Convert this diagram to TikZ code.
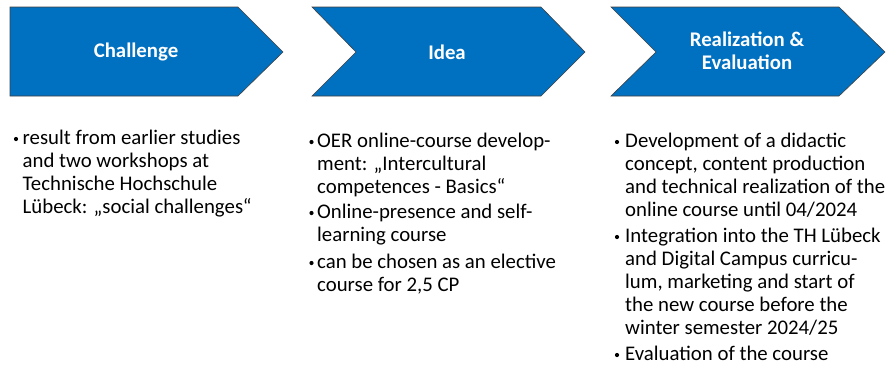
\documentclass[tikz,border=0pt]{standalone}
\usepackage{fontspec}
\setmainfont{Carlito}
\definecolor{arrowblue}{HTML}{0070C0}
\newcommand{\tline}[1]{\hbox{#1}}
\begin{document}
\begin{tikzpicture}[x=1pt,y=-1pt,
  chev/.style={fill=arrowblue, draw=black!75, line width=0.6pt},
  title/.style={text=white, font=\fontsize{20.8}{23}\selectfont\bfseries, align=center, inner sep=0pt},
  item/.style={anchor=base west, inner sep=0pt, font=\fontsize{20.8}{23}\selectfont, text=black},
  bul/.style={circle, fill=black, inner sep=0pt, minimum size=4.2pt}]
\useasboundingbox (0,0) rectangle (891,365);
% chevrons
\draw[chev] (10,7) -- (238,7) -- (283,52) -- (238,96) -- (10,96) -- cycle;
\draw[chev] (312,7) -- (541,7) -- (585,52) -- (541,96) -- (312,96) -- (356,52) -- cycle;
\draw[chev] (611,7) -- (839,7) -- (885,52) -- (839,96) -- (611,96) -- (656,52) -- cycle;
\node[title] (t1) at (136,52) {Challenge};
\node[title] (t2) at (447,52) {Idea};
\node[title] (t3) at (747,51) {Realization \&\\Evaluation};
% left column
\node[bul] (b11) at (16,139) {};
\node[item] (i11) at (22.5,144) {\vtop{\tline{result from earlier studies}\tline{and two workshops at}\tline{Technische Hochschule}\tline{Lübeck: „social challenges“}}};
% middle column
\node[bul] (b21) at (311.5,142) {};
\node[item] (i21) at (317,147) {\vtop{\tline{OER online-course develop-}\tline{ment: „Intercultural}\tline{competences - Basics“}}};
\node[bul] (b22) at (311.5,213) {};
\node[item] (i22) at (317,218) {\vtop{\tline{Online-presence and self-}\tline{learning course}}};
\node[bul] (b23) at (311.5,263) {};
\node[item] (i23) at (317,268) {\vtop{\tline{can be chosen as an elective}\tline{course for 2,5 CP}}};
% right column
\node[bul] (b31) at (617,142) {};
\node[item] (i31) at (625,147) {\vtop{\tline{Development of a didactic}\tline{concept, content production}\tline{and technical realization of the}\tline{online course until 04/2024}}};
\node[bul] (b32) at (617,237) {};
\node[item] (i32) at (625,242) {\vtop{\tline{Integration into the TH Lübeck}\tline{and Digital Campus curricu-}\tline{lum, marketing and start of}\tline{the new course before the}\tline{winter semester 2024/25}}};
\node[bul] (b33) at (617,355) {};
\node[item] (i33) at (625,360) {Evaluation of the course};
\end{tikzpicture}
\end{document}
